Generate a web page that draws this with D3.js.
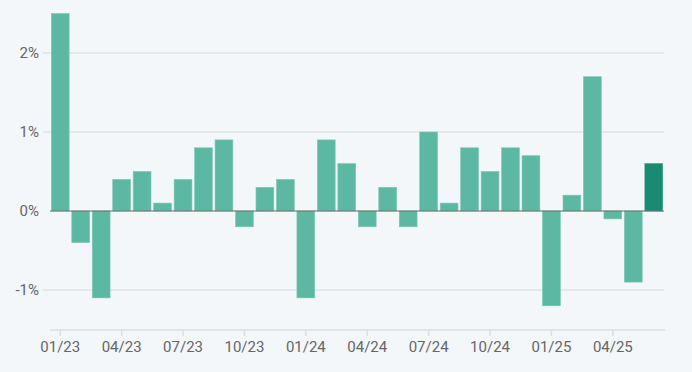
<!DOCTYPE html>
<html>
<head>
<meta charset="utf-8">
<script src="https://cdn.jsdelivr.net/npm/d3@7"></script>
<style>
  html, body { margin: 0; padding: 0; background: #f4f7fa; }
  #chart text { font-family: Roboto, "Liberation Sans", sans-serif; fill: #666; }
</style>
</head>
<body>
<div id="chart"></div>
<script>
/* Data */
const months = [
  "01/23","02/23","03/23","04/23","05/23","06/23","07/23","08/23","09/23","10/23","11/23","12/23",
  "01/24","02/24","03/24","04/24","05/24","06/24","07/24","08/24","09/24","10/24","11/24","12/24",
  "01/25","02/25","03/25","04/25","05/25","06/25"
];
const changes = [
  2.5, -0.4, -1.1, 0.4, 0.5, 0.1, 0.4, 0.8, 0.9, -0.2, 0.3, 0.4,
  -1.1, 0.9, 0.6, -0.2, 0.3, -0.2, 1.0, 0.1, 0.8, 0.5, 0.8, 0.7,
  -1.2, 0.2, 1.7, -0.1, -0.9, 0.6
];
const yTicks = [-1, 0, 1, 2];
const xTickLabels = ["01/23","04/23","07/23","10/23","01/24","04/24","07/24","10/24","01/25","04/25"];

/* Dimensions */
const width = 692, height = 372;
const plot = { left: 50, right: 664, top: 14, bottom: 330 };

const svg = d3.select("#chart").append("svg")
  .attr("width", width)
  .attr("height", height);

const x = d3.scaleBand()
  .domain(months)
  .range([plot.left, plot.right])
  .paddingInner(0.13)
  .paddingOuter(0.065);

// 0% sits at y=211, 79px per 1%
const y = d3.scaleLinear()
  .domain([-1, 2])
  .range([290, 53]);

// Gridlines
svg.append("g")
  .selectAll("line")
  .data(yTicks.filter(d => d !== 0))
  .join("line")
    .attr("x1", 43)
    .attr("x2", plot.right)
    .attr("y1", d => y(d))
    .attr("y2", d => y(d))
    .attr("stroke", "#e1e3e6")
    .attr("stroke-width", 1.5);

// Y labels
svg.append("g")
  .selectAll("text")
  .data(yTicks)
  .join("text")
    .attr("x", 39)
    .attr("y", d => y(d))
    .attr("dy", "0.35em")
    .attr("text-anchor", "end")
    .style("font-size", "15px")
    .text(d => d + "%");

// Bars
svg.append("g")
  .selectAll("rect")
  .data(months.map((m, i) => ({ m: m, v: changes[i], last: i === months.length - 1 })))
  .join("rect")
    .attr("x", d => x(d.m))
    .attr("width", x.bandwidth())
    .attr("y", d => y(Math.max(0, d.v)))
    .attr("height", d => Math.abs(y(d.v) - y(0)))
    .attr("fill", d => d.last ? "#1b8a73" : "#5db8a3")
    .attr("stroke", d => d.last ? "#3a9a85" : "#7cc6b4")
    .attr("stroke-width", 0.6);

// Zero line
svg.append("line")
  .attr("x1", plot.left)
  .attr("x2", plot.right)
  .attr("y1", y(0))
  .attr("y2", y(0))
  .attr("stroke", "#6b6b6b")
  .attr("stroke-width", 1.2);

// X axis
const xAxis = svg.append("g")
  .attr("transform", "translate(0," + plot.bottom + ")")
  .call(d3.axisBottom(x).tickValues(xTickLabels).tickSize(6).tickPadding(5));

xAxis.select(".domain").attr("stroke", "#dcdee1").attr("stroke-width", 1.5)
  .attr("d", "M" + plot.left + ",0H" + (plot.right + 1));
xAxis.selectAll(".tick line").attr("stroke", "#dcdee1").attr("stroke-width", 1.5);
xAxis.selectAll(".tick text").style("font-size", "15px").attr("fill", "#666");
</script>
</body>
</html>
